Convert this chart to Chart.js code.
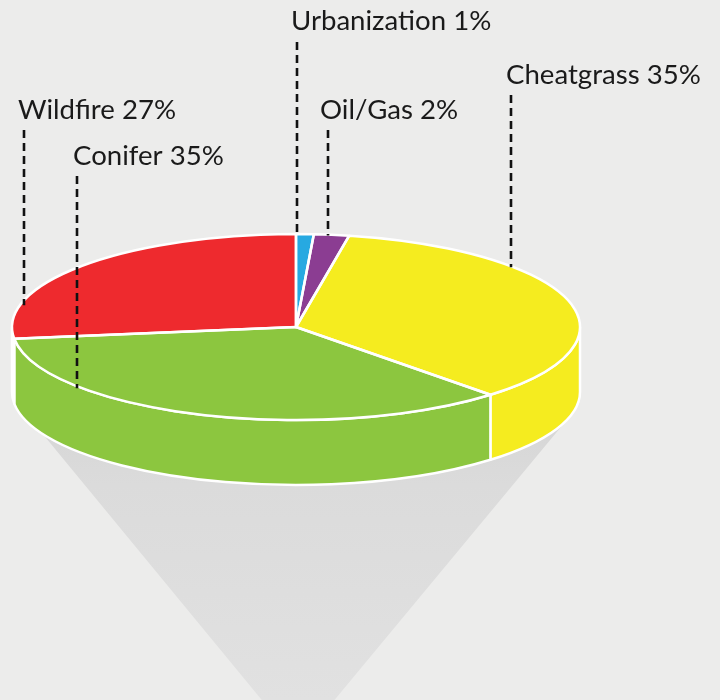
<!DOCTYPE html>
<html>
<head>
<meta charset="utf-8">
<script src="https://cdn.jsdelivr.net/npm/chart.js@4/dist/chart.umd.min.js"></script>
<style>
    html, body { margin: 0; padding: 0; background: #ececeb; }
    canvas { display: block; }
</style>
</head>
<body>
<canvas id="pie3d" width="720" height="700"></canvas>
<script>
// slices, clockwise from 12 o'clock
const categories = ['Urbanization', 'Oil/Gas', 'Cheatgrass', 'Conifer', 'Wildfire'];
const shares = [1, 2, 35, 35, 27];
const sliceColors = ['#27a9e1', '#8b3d92', '#f5ec1f', '#8cc63f', '#ee2a2e'];

// callout placement (text left/baseline, leader x and where the leader starts)
const calloutX = [291, 320, 506, 73, 18];
const calloutY = [30, 119, 84, 165, 119];
const leaderX = [297, 328, 511, 77, 24];
const leaderTop = [42, 130, 95, 176, 130];
const leaderEdge = ['top', 'top', 'top', 'front', 'top'];
const leaderInset = [1, 1, 1, 2, 5];

// tilt of the disc
const faceY = 327;          // where the centre of the top face lands
const tilt = 93 / 284;      // vertical squash
const depth = 65;           // thickness of the disc

function pieGeom(chart) {
    let arcs = chart.getDatasetMeta(0).data;
    let p = arcs[0].getProps(['x', 'y', 'outerRadius'], true);
    return {cx: p.x, cy: p.y, r: p.outerRadius, ry: p.outerRadius * tilt, arcs: arcs};
}

const disc3d = {
    id: 'disc3d',
    beforeDraw(chart) {
        let ctx = chart.ctx;
        let g = pieGeom(chart);
        ctx.save();
        ctx.fillStyle = '#ececeb';
        ctx.fillRect(0, 0, chart.width, chart.height);

        // funnel shadow under the disc
        let apex = {x: g.cx + 2, y: 744};
        let bottomY = faceY + depth;
        let grad = ctx.createLinearGradient(0, bottomY, 0, 700);
        grad.addColorStop(0, '#d4d4d4');
        grad.addColorStop(0.3, '#dbdbdb');
        grad.addColorStop(1, '#e1e1e1');
        ctx.fillStyle = grad;
        ctx.beginPath();
        ctx.moveTo(apex.x, apex.y);
        let aL = Math.PI * 0.85, aR = Math.PI * 0.1;
        ctx.lineTo(g.cx + g.r * Math.cos(aL), bottomY + g.ry * Math.sin(aL));
        ctx.ellipse(g.cx, bottomY, g.r, g.ry, 0, aL, aR, true);
        ctx.closePath();
        ctx.fill();
        ctx.restore();
    },
    beforeDatasetsDraw(chart) {
        let ctx = chart.ctx;
        let g = pieGeom(chart);

        // front walls
        g.arcs.forEach((arc, i) => {
            let a = arc.getProps(['startAngle', 'endAngle'], true);
            let a0 = Math.max(a.startAngle, 0);
            let a1 = Math.min(a.endAngle, Math.PI);
            if (a1 <= a0) return;
            ctx.save();
            ctx.beginPath();
            ctx.ellipse(g.cx, faceY, g.r, g.ry, 0, a0, a1);
            ctx.lineTo(g.cx + g.r * Math.cos(a1), faceY + depth + g.ry * Math.sin(a1));
            ctx.ellipse(g.cx, faceY + depth, g.r, g.ry, 0, a1, a0, true);
            ctx.closePath();
            ctx.fillStyle = sliceColors[i];
            ctx.fill();
            ctx.strokeStyle = '#ffffff';
            ctx.lineWidth = 2.5;
            ctx.lineJoin = 'round';
            ctx.stroke();
            ctx.restore();
        });

        // squash the flat pie into the top face
        ctx.save();
        ctx.translate(0, faceY);
        ctx.scale(1, tilt);
        ctx.translate(0, -g.cy);
    },
    afterDatasetsDraw(chart) {
        let ctx = chart.ctx;
        ctx.restore();
        let g = pieGeom(chart);

        // white outlines on the top face, drawn unsquashed so widths stay even
        g.arcs.forEach(arc => {
            let a = arc.getProps(['startAngle', 'endAngle'], true);
            ctx.save();
            ctx.translate(0, faceY);
            ctx.scale(1, tilt);
            ctx.translate(0, -g.cy);
            ctx.beginPath();
            ctx.moveTo(g.cx, g.cy);
            ctx.arc(g.cx, g.cy, g.r, a.startAngle, a.endAngle);
            ctx.closePath();
            ctx.restore();
            ctx.save();
            ctx.strokeStyle = '#ffffff';
            ctx.lineWidth = 2.5;
            ctx.lineJoin = 'round';
            ctx.stroke();
            ctx.restore();
        });

        // callouts
        ctx.save();
        ctx.font = '27.6px Lato';
        ctx.fillStyle = '#1a1a1a';
        ctx.textBaseline = 'alphabetic';
        categories.forEach((name, i) => {
            ctx.fillText(name + ' ' + shares[i] + '%', calloutX[i], calloutY[i]);
            let dx = (leaderX[i] - g.cx) / g.r;
            let h = g.ry * Math.sqrt(Math.max(0, 1 - dx * dx));
            let endY = leaderEdge[i] === 'front' ? faceY + h + leaderInset[i] : faceY - h + leaderInset[i];
            ctx.beginPath();
            ctx.setLineDash([8, 5]);
            ctx.lineWidth = 2.6;
            ctx.strokeStyle = '#111111';
            ctx.moveTo(leaderX[i], leaderTop[i]);
            ctx.lineTo(leaderX[i], endY);
            ctx.stroke();
        });
        ctx.restore();
    }
};

function build() {
    new Chart(document.getElementById('pie3d'), {
        type: 'pie',
        data: {
            labels: categories,
            datasets: [{
                data: shares,
                backgroundColor: sliceColors,
                borderWidth: 0
            }]
        },
        options: {
            responsive: false,
            animation: false,
            events: [],
            layout: {padding: {left: 12, right: 140, top: 66, bottom: 66}},
            plugins: {
                legend: {display: false},
                tooltip: {enabled: false}
            }
        },
        plugins: [disc3d]
    });
}

if (document.fonts && document.fonts.load) {
    document.fonts.load('27.6px Lato').then(build, build);
} else {
    build();
}
</script>
</body>
</html>
